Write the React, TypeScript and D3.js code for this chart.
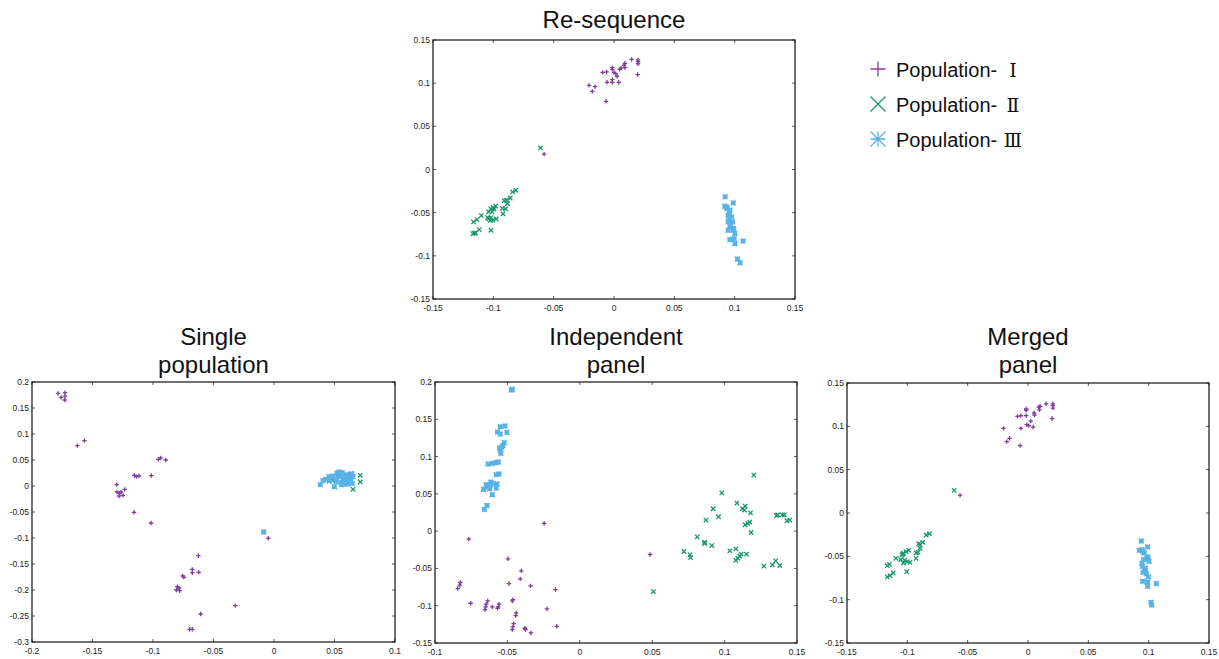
import React from "react";
import * as d3 from "d3";

type Pt = [number, number];

// ---------- Data ----------
const popPrefix = "Population-";
const popNumerals = ["Ⅰ", "Ⅱ", "Ⅲ"];

const reseqPop1: Pt[] = [
  [-0.0207, 0.0975], [-0.018, 0.0905], [-0.0157, 0.096], [-0.0094, 0.1125], [-0.0061, 0.113],
  [-0.0066, 0.079], [-0.0058, 0.101], [-0.0014, 0.118], [-0.0014, 0.116], [-0.0014, 0.101],
  [-0.0014, 0.104], [0.0, 0.1125], [0.0014, 0.111], [0.0025, 0.108], [0.004, 0.101],
  [0.0047, 0.116], [0.0058, 0.1175], [0.0083, 0.121], [0.0091, 0.123], [0.0091, 0.118],
  [0.0146, 0.1275], [0.0199, 0.127], [0.0199, 0.125], [0.0199, 0.1225], [0.0196, 0.11],
  [-0.0579, 0.0178],
];
const reseqPop2: Pt[] = [
  [-0.061, 0.025], [-0.0814, -0.024], [-0.084, -0.026], [-0.086, -0.033], [-0.089, -0.0356],
  [-0.0883, -0.0394], [-0.091, -0.036], [-0.09, -0.0456], [-0.092, -0.0514], [-0.098, -0.0425],
  [-0.1, -0.044], [-0.102, -0.0456], [-0.104, -0.049], [-0.102, -0.0557], [-0.1037, -0.0572],
  [-0.1004, -0.0588], [-0.0976, -0.0572], [-0.102, -0.0704], [-0.11, -0.0534], [-0.1136, -0.058],
  [-0.1164, -0.0607], [-0.1117, -0.0696], [-0.1147, -0.0735], [-0.117, -0.0742], [-0.1025, -0.0588],
  [-0.1047, -0.0557], [-0.101, -0.0491], [-0.0925, -0.045], [-0.1155, -0.0738], [-0.0995, -0.0458],
];
const reseqPop3: Pt[] = [
  [0.0921, -0.0317], [0.0918, -0.0425], [0.0938, -0.0452], [0.096, -0.0471], [0.0946, -0.053],
  [0.0974, -0.055], [0.0946, -0.0607], [0.0982, -0.0607], [0.096, -0.0665], [0.0946, -0.0704],
  [0.0988, -0.0704], [0.1002, -0.0743], [0.0996, -0.0801], [0.1002, -0.0859], [0.0982, -0.0809],
  [0.0988, -0.0387], [0.096, -0.0812], [0.107, -0.0828], [0.1023, -0.1036], [0.1045, -0.108],
  [0.0932, -0.0435], [0.0952, -0.0585], [0.0968, -0.0635], [0.0992, -0.0683], [0.0958, -0.0498],
];

const singlePop1: Pt[] = [
  [-0.1785, 0.178], [-0.176, 0.1705], [-0.1727, 0.1795], [-0.1727, 0.173], [-0.173, 0.1654],
  [-0.1625, 0.0776], [-0.1567, 0.0872], [-0.13, 0.0026], [-0.1297, -0.0115], [-0.1275, -0.0141],
  [-0.128, -0.0192], [-0.1264, -0.0115], [-0.1248, -0.018], [-0.1234, -0.0064], [-0.1154, 0.0205],
  [-0.1138, 0.018], [-0.1116, 0.0192], [-0.1014, 0.0199], [-0.0956, 0.0513], [-0.0937, 0.0538],
  [-0.0895, 0.05], [-0.1157, -0.0506], [-0.1016, -0.0712], [-0.0047, -0.1006], [-0.0625, -0.134],
  [-0.0675, -0.1603], [-0.0675, -0.1667], [-0.0622, -0.166], [-0.0755, -0.173], [-0.0744, -0.1756],
  [-0.0799, -0.1936], [-0.0785, -0.1962], [-0.0807, -0.2], [-0.078, -0.2013], [-0.032, -0.2301],
  [-0.0606, -0.2462], [-0.0697, -0.2756], [-0.0675, -0.2756],
];
const singlePop2: Pt[] = [
  [0.0713, 0.0205], [0.0713, 0.0077], [0.0653, -0.0064], [0.0455, 0.009], [0.0478, 0.0115],
  [0.0525, 0.0185], [0.0638, 0.0236],
];
const singlePop3: Pt[] = [
  [-0.0085, -0.0885], [0.0383, 0.0026], [0.0405, 0.0103], [0.0427, 0.0128], [0.0455, 0.018],
  [0.046, 0.0103], [0.0482, 0.0192], [0.0499, -0.0013], [0.0504, 0.0141], [0.0521, 0.0244],
  [0.0537, 0.0269], [0.0543, 0.018], [0.0554, 0.0064], [0.0565, 0.0256], [0.057, 0.0128],
  [0.0581, 0.0038], [0.0598, 0.0218], [0.0603, 0.0115], [0.0614, 0.0038], [0.0625, 0.0205],
  [0.0636, 0.0128], [0.0642, 0.0231], [0.0647, 0.0051], [0.0653, 0.018], [0.0559, 0.0026],
  [0.0587, 0.018], [0.0515, 0.0085], [0.0575, 0.0075], [0.0612, 0.0155], [0.0548, 0.0228],
];

const indepPop1: Pt[] = [
  [-0.0246, 0.0103], [-0.0767, -0.0107], [-0.0496, -0.0371], [-0.0404, -0.0533], [-0.0411, -0.064],
  [-0.0489, -0.0703], [-0.034, -0.0734], [-0.0168, -0.0783], [-0.0825, -0.0689], [-0.0829, -0.0725],
  [-0.0843, -0.077], [-0.0754, -0.0967], [-0.0636, -0.0936], [-0.0646, -0.098], [-0.065, -0.1016],
  [-0.0655, -0.1052], [-0.0604, -0.1016], [-0.0558, -0.098], [-0.0563, -0.1016], [-0.0568, -0.1034],
  [-0.0462, -0.0918], [-0.0466, -0.0936], [-0.0227, -0.1043], [-0.0439, -0.1097], [-0.0443, -0.1132],
  [-0.0457, -0.124], [-0.0462, -0.1284], [-0.0466, -0.132], [-0.0379, -0.1302], [-0.0375, -0.132],
  [-0.0338, -0.1365], [-0.0159, -0.1276], [0.0485, -0.0313],
];
const indepPop2: Pt[] = [
  [0.1202, 0.0751], [0.0981, 0.0514], [0.1085, 0.0376], [0.0921, 0.03], [0.1124, 0.03],
  [0.1142, 0.0336], [0.1137, 0.0282], [0.0958, 0.0193], [0.0871, 0.0148], [0.1179, 0.0246],
  [0.1142, 0.0085], [0.116, 0.0103], [0.1174, 0.0121], [0.1183, -0.0018], [0.1358, 0.021],
  [0.1367, 0.0219], [0.1399, 0.0219], [0.1413, 0.0219], [0.1431, 0.0139], [0.145, 0.0148],
  [0.0811, -0.0076], [0.0862, -0.0148], [0.0862, -0.0166], [0.0912, -0.0193], [0.0719, -0.0273],
  [0.0761, -0.0318], [0.0765, -0.0354], [0.1036, -0.0264], [0.1078, -0.0237], [0.1078, -0.039],
  [0.1091, -0.0363], [0.1105, -0.0336], [0.1114, -0.0309], [0.1151, -0.0309], [0.1271, -0.047],
  [0.133, -0.0452], [0.1353, -0.0398], [0.1381, -0.0461], [0.0508, -0.081],
];
const indepPop3: Pt[] = [
  [-0.0466, 0.1902], [-0.0473, 0.1893], [-0.0549, 0.1401], [-0.0517, 0.141], [-0.0568, 0.1329],
  [-0.0549, 0.1303], [-0.0503, 0.1325], [-0.0522, 0.1186], [-0.0531, 0.115], [-0.0554, 0.1114],
  [-0.0549, 0.1079], [-0.0545, 0.1043], [-0.0632, 0.09], [-0.0604, 0.0909], [-0.0581, 0.0918],
  [-0.0563, 0.0927], [-0.0558, 0.0766], [-0.0577, 0.0757], [-0.0614, 0.0658], [-0.0646, 0.0622],
  [-0.0632, 0.0595], [-0.0618, 0.0622], [-0.0595, 0.064], [-0.0572, 0.0631], [-0.0664, 0.0559],
  [-0.0623, 0.0568], [-0.0577, 0.0577], [-0.0604, 0.0488], [-0.0641, 0.0345], [-0.0659, 0.0291],
  [-0.0538, 0.1125], [-0.0625, 0.0605],
];

const mergedPop1: Pt[] = [
  [-0.0203, 0.0977], [-0.0176, 0.0823], [-0.0153, 0.0862], [-0.0087, 0.1115], [-0.0059, 0.1123],
  [-0.0059, 0.0977], [-0.0065, 0.0777], [-0.0015, 0.12], [-0.0015, 0.1123], [-0.001, 0.102],
  [0.0007, 0.1008], [0.0023, 0.106], [0.0043, 0.0992], [0.0051, 0.1154], [0.0054, 0.113],
  [0.009, 0.1223], [0.0095, 0.119], [0.0101, 0.123], [0.015, 0.126], [0.0206, 0.126],
  [0.0206, 0.124], [0.0206, 0.121], [0.02, 0.109], [-0.0563, 0.0204], [-0.0015, 0.1185],
];
const mergedPop2: Pt[] = [
  [-0.0612, 0.0262], [-0.0817, -0.0238], [-0.0844, -0.0254], [-0.0872, -0.0338], [-0.0895, -0.0369],
  [-0.0906, -0.0354], [-0.0895, -0.0408], [-0.0911, -0.0454], [-0.0928, -0.0523], [-0.0989, -0.0431],
  [-0.1011, -0.0446], [-0.1033, -0.0462], [-0.1044, -0.0485], [-0.1055, -0.0538], [-0.1033, -0.0577],
  [-0.1, -0.0562], [-0.0978, -0.0569], [-0.1005, -0.0677], [-0.1094, -0.0523], [-0.1149, -0.0592],
  [-0.1166, -0.0608], [-0.1117, -0.0692], [-0.1144, -0.0723], [-0.1166, -0.0738], [-0.1022, -0.0545],
  [-0.1038, -0.0473], [-0.0925, -0.046],
];
const mergedPop3: Pt[] = [
  [0.0939, -0.0323], [0.0922, -0.0431], [0.0944, -0.0423], [0.0964, -0.0462], [0.0991, -0.0392],
  [0.0994, -0.0508], [0.0958, -0.0538], [0.1003, -0.0558], [0.0947, -0.0615], [0.0972, -0.0635],
  [0.0953, -0.0685], [0.0981, -0.07], [0.0997, -0.0738], [0.095, -0.0788], [0.0991, -0.08],
  [0.0991, -0.0846], [0.1063, -0.0815], [0.1019, -0.1031], [0.1025, -0.1062], [0.0952, -0.0445],
  [0.0968, -0.0655], [0.0985, -0.0525], [0.0945, -0.0578],
];

const panelTitles = [["Re-sequence"], ["Single", "population"], ["Independent", "panel"], ["Merged", "panel"]];
const xDomains: [number, number][] = [[-0.15, 0.15], [-0.2, 0.1], [-0.1, 0.15], [-0.15, 0.15]];
const yDomains: [number, number][] = [[-0.15, 0.15], [-0.3, 0.2], [-0.15, 0.2], [-0.15, 0.15]];
const tickStep = 0.05;

// ---------- Styling / layout ----------
const COLORS = ["#7d3f98", "#17976c", "#57b2e6"];
const FONT = "'Liberation Sans', Arial, Helvetica, sans-serif";
const NUM_FONT = "'DejaVu Serif', 'Noto Sans CJK JP', serif";

const frames = [
  { x0: 433, x1: 795, y0: 40, y1: 299, titleY: [28] },
  { x0: 32, x1: 395, y0: 382, y1: 642, titleY: [345, 373] },
  { x0: 435, x1: 797, y0: 382, y1: 643, titleY: [345, 373] },
  { x0: 847, x1: 1209, y0: 383, y1: 643, titleY: [345, 373] },
];

const panelData: Pt[][][] = [
  [reseqPop1, reseqPop2, reseqPop3],
  [singlePop1, singlePop2, singlePop3],
  [indepPop1, indepPop2, indepPop3],
  [mergedPop1, mergedPop2, mergedPop3],
];

function markerPath(kind: number, s: number): string {
  const plus = `M${-s},0H${s}M0,${-s}V${s}`;
  const cross = `M${-s},${-s}L${s},${s}M${-s},${s}L${s},${-s}`;
  if (kind === 0) return plus;
  if (kind === 1) return cross;
  return plus + cross;
}

const fmt = (v: number) => {
  const r = Math.round(v * 100) / 100;
  return r === 0 ? "0" : String(r);
};

function Panel({ idx }: { idx: number }) {
  const f = frames[idx];
  const xs = d3.scaleLinear().domain(xDomains[idx]).range([f.x0, f.x1]);
  const ys = d3.scaleLinear().domain(yDomains[idx]).range([f.y1, f.y0]);
  const xt = d3.range(xDomains[idx][0], xDomains[idx][1] + 1e-9, tickStep);
  const yt = d3.range(yDomains[idx][0], yDomains[idx][1] + 1e-9, tickStep);
  const tl = 3;
  const cx = (f.x0 + f.x1) / 2;
  return (
    <g>
      {panelTitles[idx].map((t, i) => (
        <text key={i} x={cx} y={f.titleY[i]} textAnchor="middle" fontSize={24} fontFamily={FONT} fill="#111">
          {t}
        </text>
      ))}
      {xt.map((v, i) => (
        <g key={"x" + i}>
          <line x1={xs(v)} x2={xs(v)} y1={f.y1} y2={f.y1 - tl} stroke="#333" strokeWidth={0.8} />
          <line x1={xs(v)} x2={xs(v)} y1={f.y0} y2={f.y0 + tl} stroke="#333" strokeWidth={0.8} />
          <text x={xs(v)} y={f.y1 + 12} textAnchor="middle" fontSize={8.5} fontFamily={FONT} fill="#222">
            {fmt(v)}
          </text>
        </g>
      ))}
      {yt.map((v, i) => (
        <g key={"y" + i}>
          <line x1={f.x0} x2={f.x0 + tl} y1={ys(v)} y2={ys(v)} stroke="#333" strokeWidth={0.8} />
          <line x1={f.x1} x2={f.x1 - tl} y1={ys(v)} y2={ys(v)} stroke="#333" strokeWidth={0.8} />
          <text x={f.x0 - 3} y={ys(v) + 3} textAnchor="end" fontSize={8.5} fontFamily={FONT} fill="#222">
            {fmt(v)}
          </text>
        </g>
      ))}
      <rect x={f.x0} y={f.y0} width={f.x1 - f.x0} height={f.y1 - f.y0} fill="none" stroke="#111" strokeWidth={1.2} />
      {panelData[idx].map((pts, k) => (
        <g key={"s" + k} stroke={COLORS[k]} strokeWidth={k === 2 ? 1.6 : 1.3} fill="none">
          {pts.map((p, j) => (
            <path key={j} d={markerPath(k, k === 2 ? 2.4 : 2.2)} transform={`translate(${xs(p[0])},${ys(p[1])})`} />
          ))}
        </g>
      ))}
    </g>
  );
}

function Legend() {
  const x = 878;
  const rowY = [69, 104, 139];
  return (
    <g>
      {popNumerals.map((num, i) => (
        <g key={i}>
          <path d={markerPath(i, 7.5)} transform={`translate(${x},${rowY[i]})`} stroke={COLORS[i]} strokeWidth={1.3} fill="none" />
          <text x={896} y={rowY[i] + 8} fontSize={20} fontFamily={FONT} fill="#111">
            {popPrefix}
          </text>
          <text x={1013} y={rowY[i] + 8} fontSize={19} fontFamily={NUM_FONT} textAnchor="middle" fill="#111">
            {num}
          </text>
        </g>
      ))}
    </g>
  );
}

export default function App() {
  return (
    <svg width={1219} height={659} style={{ position: "absolute", left: 0, top: 0, background: "#fff" }}>
      <rect width={1219} height={659} fill="#fff" />
      {[0, 1, 2, 3].map((i) => (
        <Panel key={i} idx={i} />
      ))}
      <Legend />
    </svg>
  );
}
